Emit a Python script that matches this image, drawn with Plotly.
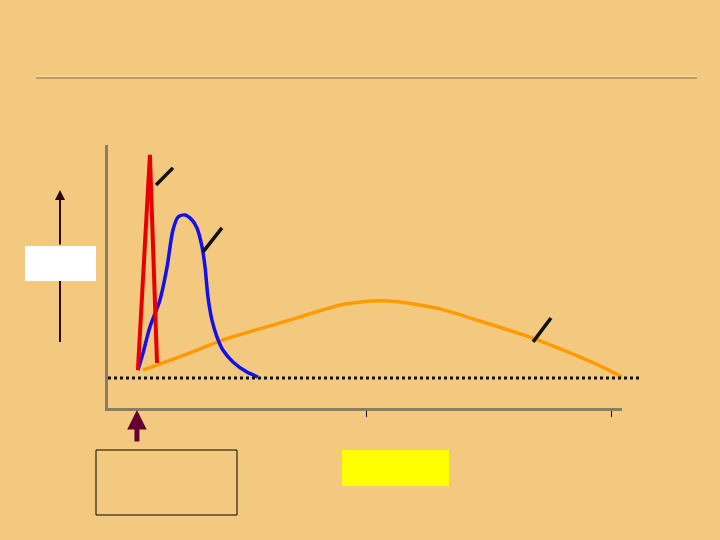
import plotly.graph_objects as go

# Time (arbitrary hours) and concentration (arbitrary units)
red_x = [0.65, 1.14, 1.43]
red_y = [3.6, 101.4, 6.8]

blue_x = [0.65, 0.86, 1.14, 1.55, 1.84, 2.08, 2.29, 2.57, 2.86, 3.06, 3.27, 3.39, 3.51, 3.67, 3.88, 4.12, 4.53, 5.10, 5.55]
blue_y = [3.6, 11.4, 23.2, 35.5, 50.5, 67.3, 73.2, 74.1, 71.8, 68.2, 59.5, 50.5, 36.8, 26.4, 18.6, 12.7, 7.3, 2.7, 0.5]

orange_x = [0.86, 2.78, 4.12, 6.86, 8.90, 10.20, 11.35, 12.98, 14.61, 16.65, 18.29, 19.51, 20.41]
orange_y = [3.6, 11.4, 17.3, 26.4, 33.2, 35.0, 34.5, 31.4, 25.9, 18.6, 11.4, 5.5, 0.5]

# label pointer ticks (x0, y0, x1, y1)
pointers = [(1.39, 87.7, 2.08, 95.5), (3.31, 57.3, 4.08, 68.2), (16.78, 16.4, 17.51, 27.3)]

x_ticks = [10, 20]
dose_time = 0.61
baseline = 0

BG = "#F2C97E"
AXIS = "#8B7D64"

fig = go.Figure()

fig.add_trace(go.Scatter(x=orange_x, y=orange_y, mode="lines", line=dict(color="#FF9A00", width=3.5, shape="spline", smoothing=0.6), hoverinfo="skip"))
fig.add_trace(go.Scatter(x=blue_x, y=blue_y, mode="lines", line=dict(color="#1010F0", width=3.5, shape="spline", smoothing=0.8), hoverinfo="skip"))
fig.add_trace(go.Scatter(x=red_x, y=red_y, mode="lines", line=dict(color="#E80000", width=4), hoverinfo="skip"))

for x0, y0, x1, y1 in pointers:
    fig.add_shape(type="line", xref="x", yref="y", x0=x0, y0=y0, x1=x1, y1=y1,
                  line=dict(color="#111111", width=3.5))

# dotted baseline, extends past the axis end
fig.add_shape(type="line", xref="paper", yref="y", x0=108/720, x1=640/720, y0=baseline, y1=baseline,
              line=dict(color="#111111", width=3, dash="dot"))

# top rule
fig.add_shape(type="line", xref="paper", yref="paper", x0=36/720, x1=697/720, y0=1-76/540, y1=1-76/540,
              line=dict(color="#F8D590", width=1.5))
fig.add_shape(type="line", xref="paper", yref="paper", x0=36/720, x1=697/720, y0=1-78/540, y1=1-78/540,
              line=dict(color="#7E7560", width=1.2))

# left vertical arrow with white box
fig.add_shape(type="line", xref="paper", yref="paper", x0=60/720, x1=60/720, y0=1-342/540, y1=1-281/540,
              line=dict(color="#2A0A0A", width=2))
fig.add_annotation(xref="paper", yref="paper", x=60/720, y=1-190/540, ax=0, ay=56, text="",
                   showarrow=True, arrowhead=2, arrowsize=1, arrowwidth=2, arrowcolor="#2A0A0A")
fig.add_shape(type="rect", xref="paper", yref="paper", x0=25/720, x1=96/720, y0=1-281/540, y1=1-246/540,
              fillcolor="white", line=dict(width=0))

# dose arrow
fig.add_annotation(xref="x", yref="paper", x=dose_time, y=1-410/540, ax=0, ay=33, text="",
                   showarrow=True, arrowhead=2, arrowsize=0.78, arrowwidth=5, arrowcolor="#660033")

# empty outlined box and yellow box
fig.add_shape(type="rect", xref="paper", yref="paper", x0=96/720, x1=237/720, y0=1-515/540, y1=1-450/540,
              fillcolor="rgba(0,0,0,0)", line=dict(color="black", width=1))
fig.add_shape(type="rect", xref="paper", yref="paper", x0=342/720, x1=449/720, y0=1-486/540, y1=1-450/540,
              fillcolor="#FFFF00", line=dict(width=0))

fig.update_layout(
    width=720, height=540, margin=dict(l=0, r=0, t=0, b=0),
    paper_bgcolor=BG, plot_bgcolor=BG, showlegend=False,
    xaxis=dict(domain=[108/720, 622/720], range=[-0.571, 20.41], showgrid=False, zeroline=False,
               showline=True, linecolor=AXIS, linewidth=3, tickvals=x_ticks, ticks="outside",
               ticklen=6, tickwidth=1, tickcolor="black", showticklabels=False, fixedrange=True),
    yaxis=dict(domain=[1-408/540, 1-145/540], range=[-13.64, 105.9], showgrid=False, zeroline=False,
               showline=True, linecolor=AXIS, linewidth=3, showticklabels=False, ticks="", fixedrange=True),
)

fig.write_html("out.html", config={"displayModeBar": False},
               post_script="document.body.style.margin='0';document.body.style.overflow='hidden';")
